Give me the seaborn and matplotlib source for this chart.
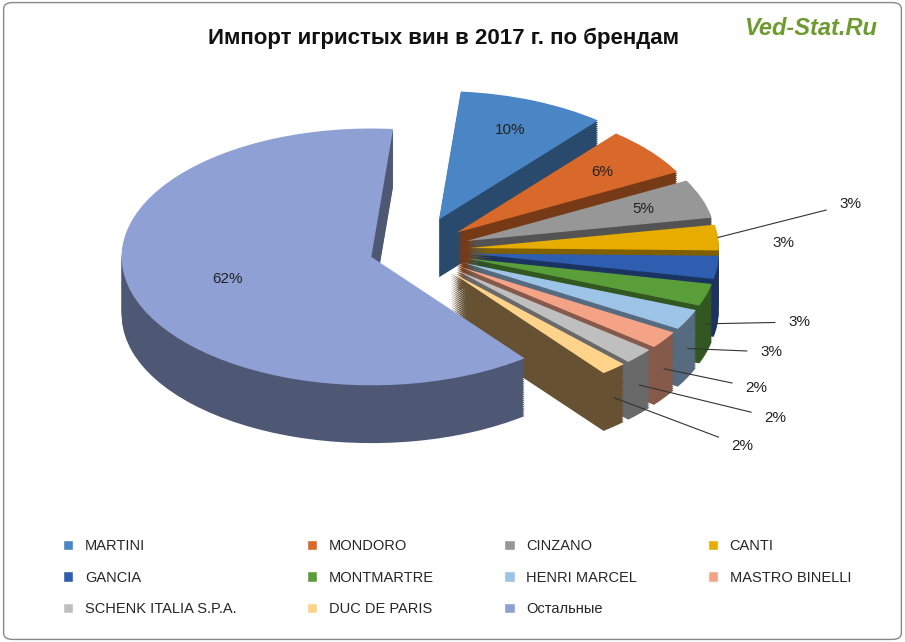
import numpy as np
import matplotlib
matplotlib.use("Agg")
import matplotlib.pyplot as plt
import seaborn as sns
from matplotlib.patches import Patch, FancyBboxPatch
import matplotlib.colors as mc

sns.set_theme(style="white", font="Liberation Sans")

brands = ["MARTINI", "MONDORO", "CINZANO", "CANTI", "GANCIA", "MONTMARTRE",
          "HENRI MARCEL", "MASTRO BINELLI", "SCHENK ITALIA S.P.A.", "DUC DE PARIS", "Остальные"]
shares = [9.6, 6.2, 4.9, 3.2, 2.9, 2.8, 2.6, 2.2, 2.0, 1.7, 61.9]
labels = ["10%", "6%", "5%", "3%", "3%", "3%", "3%", "2%", "2%", "2%", "62%"]
colors = ["#4A86C5", "#D9692A", "#979797", "#E6AC00", "#2F5DB0", "#5A9E3A",
          "#9DC3E6", "#F4A386", "#BFBFBF", "#FFD38A", "#8EA0D4"]
explode = [0.26, 0.22, 0.22, 0.22, 0.22, 0.22, 0.22, 0.22, 0.22, 0.22, 0.18]

fig = plt.figure(figsize=(9.05, 6.42), dpi=100)
fig.patches.append(FancyBboxPatch((0.004, 0.004), 0.992, 0.992, boxstyle="round,pad=0,rounding_size=0.01",
                                  transform=fig.transFigure, fill=False, ec="#888888", lw=1))
ax = fig.add_axes([0.08, 0.2, 0.8, 0.72])

depth = 0.45
nl = 30
dark = [tuple(np.array(mc.to_rgb(c)) * 0.55) for c in colors]
dark[9] = (0.40, 0.32, 0.20)
cx0 = 0.02
for i in range(nl):
    y = -depth + depth * i / nl
    ax.pie(shares, colors=dark, explode=explode, startangle=85, counterclock=False,
           center=(cx0, y), wedgeprops=dict(linewidth=0))
wedges, _ = ax.pie(shares, colors=colors, explode=explode, startangle=85, counterclock=False,
                   center=(cx0, 0), wedgeprops=dict(linewidth=0))
ax.set_aspect("auto")
ax.set_xlim(-1.35, 1.55)
ax.set_ylim(-2.05, 1.55)

outer = {3: (850, 204, True), 4: (783, 243, False), 5: (799, 322, True),
         6: (771, 352, True), 7: (756, 388, True), 8: (775, 418, True), 9: (742, 446, True)}
for i, w in enumerate(wedges):
    ang = np.deg2rad((w.theta1 + w.theta2) / 2)
    cx, cy = w.center
    if i in outer:
        tx, ty, line = outer[i]
        pos = (tx / 905, 1 - ty / 642)
        px = cx + np.cos(ang)
        py = cy + np.sin(ang) - (depth * 0.5 if i >= 5 else 0)
        if line:
            ax.annotate(labels[i], xy=(px, py), xytext=pos, textcoords="figure fraction",
                        fontsize=11, color="#222222", ha="center", va="center",
                        arrowprops=dict(arrowstyle="-", color="#333333", lw=0.8, shrinkA=7, shrinkB=0))
        else:
            fig.text(pos[0], pos[1], labels[i], fontsize=11, ha="center", va="center", color="#222222")
    else:
        d = 0.6 if i == 10 else 0.75
        ax.text(cx + d * np.cos(ang), cy + d * np.sin(ang), labels[i], fontsize=11,
                ha="center", va="center", color="#222222")

fig.text(0.49, 0.94, "Импорт игристых вин в 2017 г. по брендам", ha="center", va="center",
         fontsize=16, fontweight="bold", color="#111111")
fig.text(0.895, 0.955, "Ved-Stat.Ru", ha="center", va="center", fontsize=17,
         fontweight="bold", fontstyle="italic", color="#6E9A30")

handles = [Patch(facecolor=c, label=b) for c, b in zip(colors, brands)]
order = [0, 4, 8, 1, 5, 9, 2, 6, 10, 3, 7]
fig.legend(handles=[handles[k] for k in order], loc="lower left", bbox_to_anchor=(0.055, 0.02, 0.9, 0.18),
           ncol=4, mode="expand", frameon=False, fontsize=10.5, handlelength=0.7,
           handleheight=0.7, labelspacing=1.2)
fig.savefig("out.png", dpi=100)
